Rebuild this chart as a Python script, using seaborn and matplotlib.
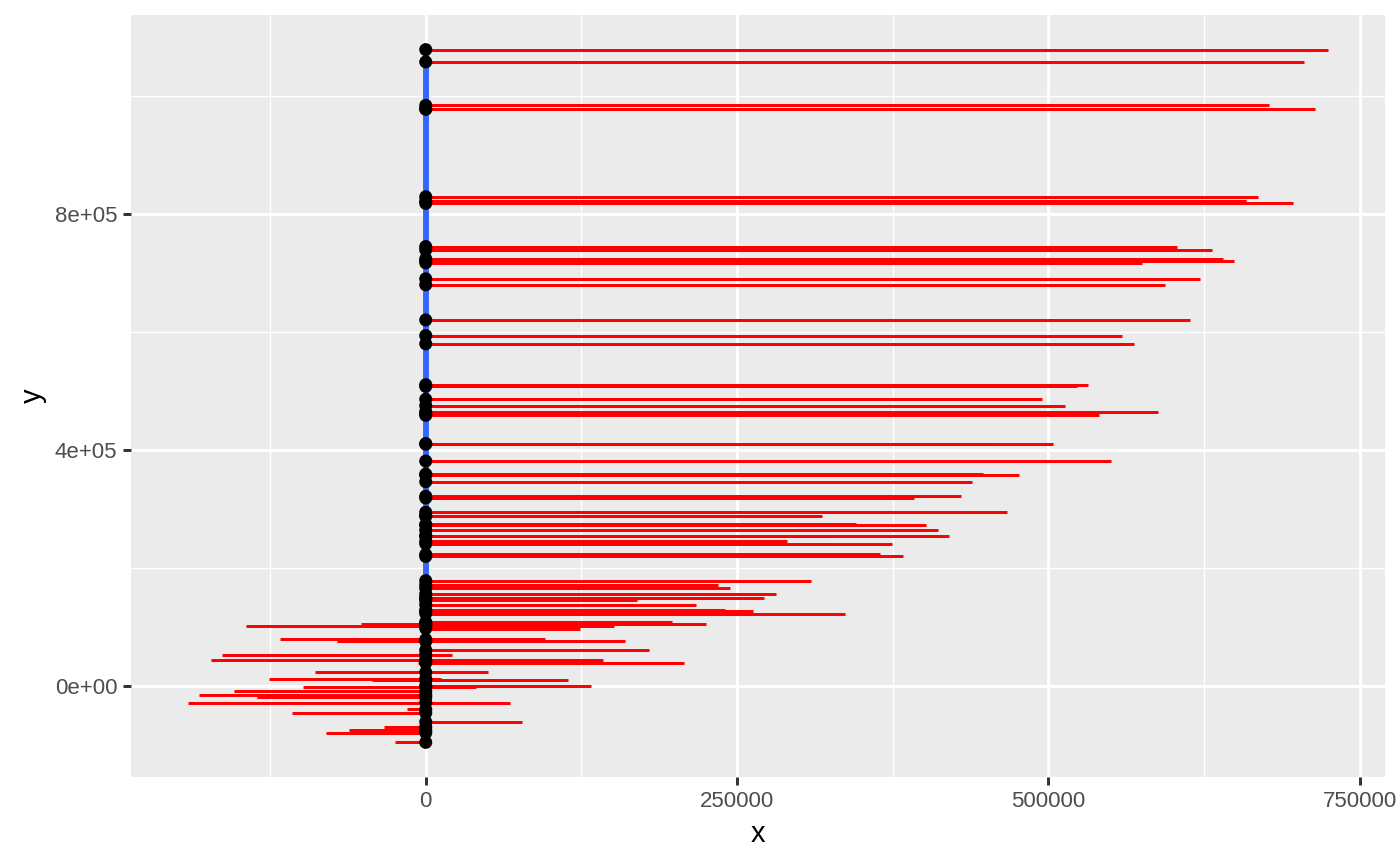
import matplotlib
matplotlib.use("Agg")
import matplotlib.pyplot as plt
import seaborn as sns
import numpy as np
import pandas as pd
from matplotlib.ticker import FixedLocator, FixedFormatter

# Segment start heights (y) with left and right ends (x)
seg_y = [
    1079300, 1058500, 984600, 978400, 978400,
    829600, 822300, 818400,
    745100, 739500, 724300, 720900, 717500,
    690400, 680300, 620600, 594100, 580100,
    510700, 507900, 485900, 475200, 465100, 458800, 461000,
    409800, 410800, 381100, 357400, 359000, 346100,
    321400, 318500, 294300, 288600, 287600,
    272400, 273500, 263900, 254800, 253500, 245300, 240700,
    222700, 219300,
    178200, 170900, 165200, 155700, 149500, 148500, 144900, 137600,
    126300, 128500, 122400,
    108000, 105500, 104300, 102100, 97000,
    78400, 75100, 60400, 52600, 44100, 41800, 38500,
    22700, 11700, 9100, -1500, -500,
    -9500, -15700, -19600, -28600, -40400, -46200,
    -61400, -70300, -75900, -80000, -96200,
]
seg_xmin = [
    0, 0, 0, 0, 0,
    0, 0, 0,
    0, 0, 0, 0, 0,
    0, 0, 0, 0, 0,
    0, 0, 0, 0, 0, 0, 0,
    0, 0, 0, 0, 0, 0,
    0, 0, 0, 0, 0,
    0, 0, 0, 0, 0, 0, 0,
    0, 0,
    0, 0, 0, 0, 0, 0, 0, 0,
    0, 0, 0,
    0, -52200, 0, -144600, 0,
    -117000, -70900, 0, -163300, -172400, 0, -6400,
    -89200, -126100, -43400, -98600, 0,
    -154000, -181800, -135500, -190900, -15300, -107600,
    0, -33700, -61600, -80100, -24700,
]
seg_xmax = [
    724500, 705000, 677000, 714000, 682700,
    668000, 659000, 696000,
    603000, 631000, 640000, 649000, 575000,
    622000, 594000, 614000, 559000, 569000,
    532000, 523000, 495000, 513000, 588000, 541000, 483500,
    504000, 456200, 550000, 476000, 447100, 439000,
    430000, 392000, 467000, 300000, 318000,
    402000, 345100, 411000, 420000, 326700, 290000, 374000,
    365000, 383000,
    309000, 235000, 244000, 281000, 272000, 188000, 170000, 217000,
    263000, 240000, 337000,
    198000, 105000, 225000, 151000, 124000,
    95600, 160400, 179000, 21400, 142000, 58400, 207000,
    49600, 12300, 114100, 40200, 132500,
    0, 0, 0, 67700, 0, 0,
    76900, 0, 0, 0, 0,
]

x_ticks = [0, 250000, 500000, 750000]
x_tick_labels = ["0", "250000", "500000", "750000"]
y_ticks = [0, 400000, 800000]
y_tick_labels = ["0e+00", "4e+05", "8e+05"]

df = pd.DataFrame({"y": seg_y, "xmin": seg_xmin, "xmax": seg_xmax})
df["x"] = 0

sns.set_theme(style="darkgrid", rc={
    "axes.facecolor": "#EBEBEB",
    "grid.color": "white",
    "axes.edgecolor": "#EBEBEB",
})
plt.rcParams["font.family"] = ["Liberation Sans", "DejaVu Sans"]

fig = plt.figure(figsize=(7, 4.33), dpi=200)
ax = fig.add_axes([131 / 1400, 1 - 777 / 866, (1385 - 131) / 1400, (777 - 15) / 866])

ax.hlines(df["y"], df["xmin"], df["xmax"], color="red", lw=1.07, zorder=3)
sns.lineplot(data=df, x="x", y="y", orient="y", estimator=None, sort=True,
             color="#3366FF", lw=2.13, ax=ax, zorder=4)
sns.scatterplot(data=df, x="x", y="y", color="black", s=22, edgecolor="none",
                linewidth=0, ax=ax, zorder=5)

xr = max(seg_xmax) - min(seg_xmin)
yr = max(seg_y) - min(seg_y)
ax.set_xlim(min(seg_xmin) - 0.05 * xr, max(seg_xmax) + 0.05 * xr)
ax.set_ylim(min(seg_y) - 0.05 * yr, max(seg_y) + 0.05 * yr)

ax.xaxis.set_major_locator(FixedLocator(x_ticks))
ax.xaxis.set_major_formatter(FixedFormatter(x_tick_labels))
ax.yaxis.set_major_locator(FixedLocator(y_ticks))
ax.yaxis.set_major_formatter(FixedFormatter(y_tick_labels))
ax.xaxis.set_minor_locator(FixedLocator([-125000, 125000, 375000, 625000]))
ax.yaxis.set_minor_locator(FixedLocator([200000, 600000, 1000000]))

ax.grid(which="major", color="white", lw=1.07)
ax.grid(which="minor", color="white", lw=0.53)
ax.set_axisbelow(True)
for s in ax.spines.values():
    s.set_visible(False)

ax.tick_params(axis="both", which="major", length=2.75, width=1.07, color="#333333",
               labelsize=8.0, labelcolor="#4D4D4D", pad=2.2, bottom=True, left=True)
ax.tick_params(axis="both", which="minor", length=0)

ax.set_xlabel("x", fontsize=10.5, color="black", labelpad=3)
ax.set_ylabel("y", fontsize=10.5, color="black", labelpad=3)

fig.savefig("out.png", dpi=200, facecolor="white")
